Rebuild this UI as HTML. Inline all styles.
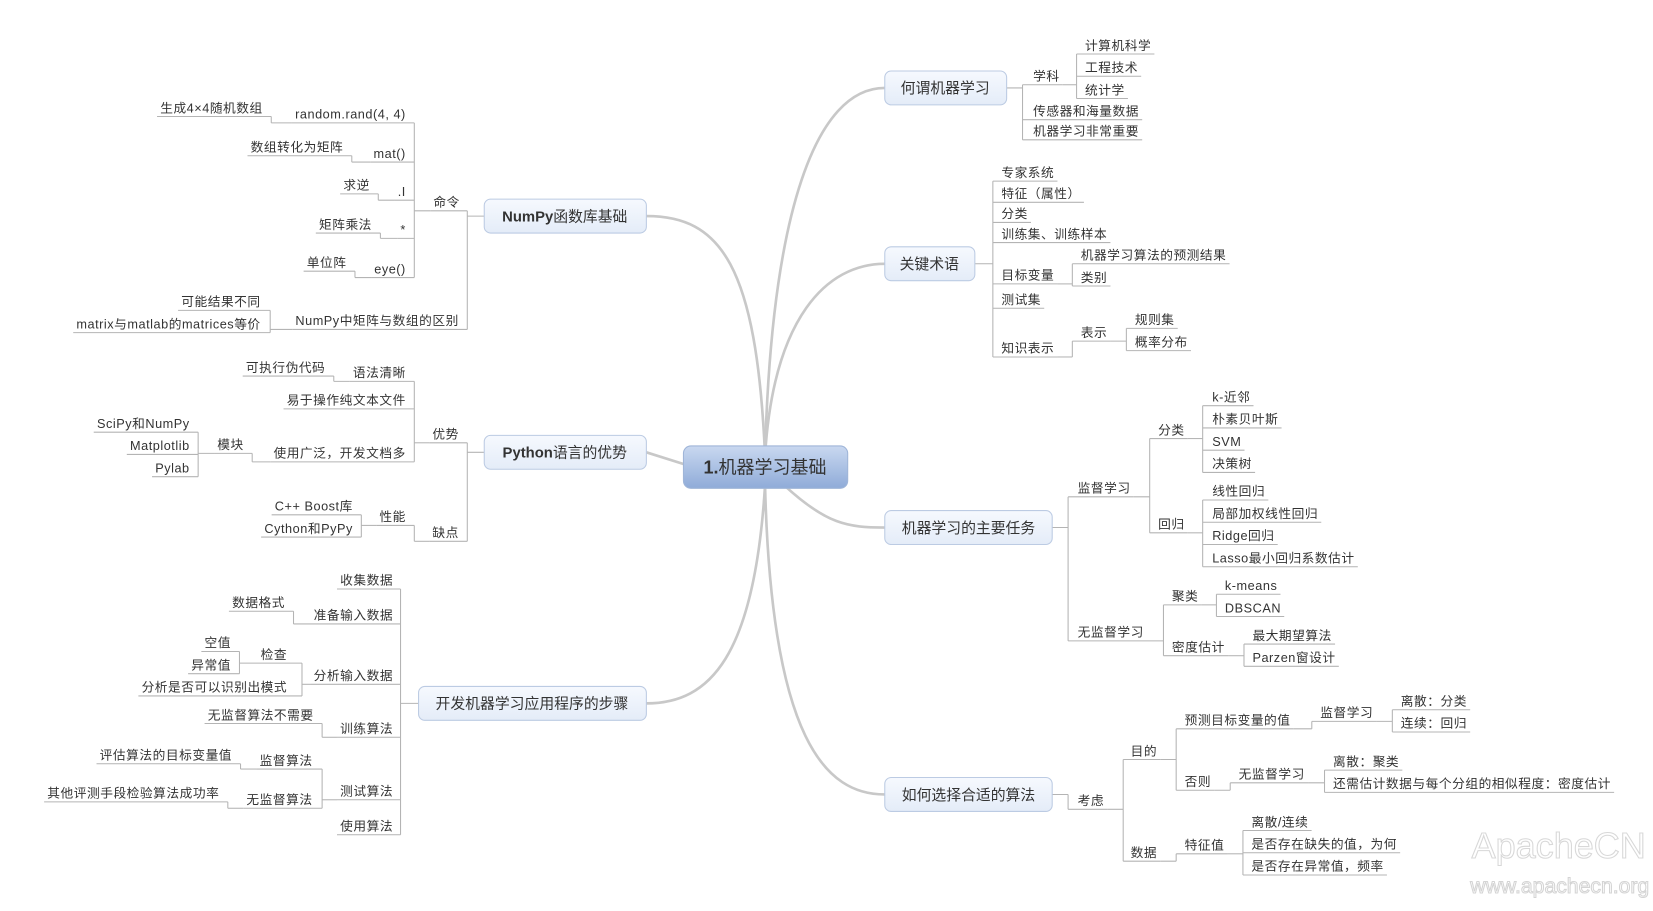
<!DOCTYPE html>
<html><head><meta charset="utf-8">
<style>
html,body{margin:0;padding:0;background:#fff;overflow:hidden;}
svg{display:block;}
text{font-family:"Liberation Sans","Noto Sans CJK SC",sans-serif;fill:#333;}
</style></head>
<body>
<svg id="s" width="1653" height="911" viewBox="0 0 1560 860" preserveAspectRatio="none" xmlns="http://www.w3.org/2000/svg">
<defs>
<linearGradient id="gc" x1="0" y1="0" x2="0" y2="1"><stop offset="0" stop-color="#c9d8f0"/><stop offset="1" stop-color="#8fabd8"/></linearGradient>
<linearGradient id="gb" x1="0" y1="0" x2="0" y2="1"><stop offset="0" stop-color="#f6f9fe"/><stop offset="1" stop-color="#e4ecf8"/></linearGradient>
</defs>
<g fill="none" stroke="#c8c8c8" stroke-width="2.5">
<path d="M722,430 C728,200 770,83 835,83"/>
<path d="M722,430 C730,300 780,249 835,249"/>
<path d="M740,458 C780,495 800,498 835,498"/>
<path d="M722,458 C728,700 780,750 835,750"/>
<path d="M722,430 C714,250 680,204 610,204"/>
<path d="M610,427 L645,438"/>
<path d="M722,458 C712,620 670,664 610,664"/>
</g>
<g id="lines" fill="none" stroke="#b4b4b4" stroke-width="1"></g>
<g id="txt" font-size="12" letter-spacing="0.5"></g>
<rect x="835" y="67" width="115" height="32" rx="6" fill="url(#gb)" stroke="#bccbe3"/>
<text x="892" y="88" font-size="14" text-anchor="middle">何谓机器学习</text>
<rect x="835" y="233" width="85" height="32" rx="6" fill="url(#gb)" stroke="#bccbe3"/>
<text x="877" y="254" font-size="14" text-anchor="middle">关键术语</text>
<rect x="835" y="482" width="158" height="32" rx="6" fill="url(#gb)" stroke="#bccbe3"/>
<text x="914" y="503" font-size="14" text-anchor="middle">机器学习的主要任务</text>
<rect x="835" y="734" width="158" height="32" rx="6" fill="url(#gb)" stroke="#bccbe3"/>
<text x="914" y="755" font-size="14" text-anchor="middle">如何选择合适的算法</text>
<rect x="457" y="188" width="153" height="32" rx="6" fill="url(#gb)" stroke="#bccbe3"/>
<text x="533" y="209" font-size="14" text-anchor="middle"><tspan font-weight="bold">NumPy</tspan>函数库基础</text>
<rect x="457" y="411" width="153" height="32" rx="6" fill="url(#gb)" stroke="#bccbe3"/>
<text x="533" y="432" font-size="14" text-anchor="middle"><tspan font-weight="bold">Python</tspan>语言的优势</text>
<rect x="395" y="648" width="215" height="32" rx="6" fill="url(#gb)" stroke="#bccbe3"/>
<text x="502" y="669" font-size="14" text-anchor="middle">开发机器学习应用程序的步骤</text>
<rect x="645" y="421" width="155" height="40" rx="7" fill="url(#gc)" stroke="#9fb5d8"/>
<text x="722" y="447" font-size="17" text-anchor="middle"><tspan font-weight="bold">1.</tspan>机器学习基础</text>
<text x="1471" y="810" font-size="34" text-anchor="middle" style="fill:#fff;stroke:#d8d8d8;stroke-width:1">ApacheCN</text>
<text x="1472" y="843" font-size="20" text-anchor="middle" style="fill:#fff;stroke:#d4d4d4;stroke-width:1">www.apachecn.org</text>
</svg>
<script>
var NS="http://www.w3.org/2000/svg";
var L=document.getElementById('lines'),G=document.getElementById('txt');
function T(t,x,y,k,bx){return {t:t,x:x,y:y,k:k||[],bx:bx};}
function ln(x1,y1,x2,y2){var e=document.createElementNS(NS,'line');e.setAttribute('x1',x1);e.setAttribute('y1',y1);e.setAttribute('x2',x2);e.setAttribute('y2',y2);L.appendChild(e);}
function draw(n,side,sx){
 var e=document.createElementNS(NS,'text');e.textContent=n.t;e.setAttribute('x',n.x);e.setAttribute('y',n.y+4);
 if(side<0)e.setAttribute('text-anchor','end');G.appendChild(e);
 var w=e.getBBox().width;var uy=n.y+8;
 var far;
 if(side>0){far=n.x+w+3;ln(sx,uy,far,uy);}else{far=n.x-w-3;ln(far,uy,sx,uy);}
 if(n.k.length)grp(far,uy,n.bx,n.k,side);
}
function grp(px,py,bx,kids,side){
 ln(px,py,bx,py);
 var ys=kids.map(function(c){return c.y+8;});ys.push(py);
 ln(bx,Math.min.apply(0,ys),bx,Math.max.apply(0,ys));
 kids.forEach(function(c){draw(c,side,bx);});
}
grp(950,83,965,[T('学科',975,72,[T('计算机科学',1024,43),T('工程技术',1024,64),T('统计学',1024,85)],1016),T('传感器和海量数据',975,105),T('机器学习非常重要',975,124)],1);
grp(920,249,937,[T('专家系统',945,163),T('特征（属性）',945,183),T('分类',945,202),T('训练集、训练样本',945,221),T('目标变量',945,260,[T('机器学习算法的预测结果',1020,241),T('类别',1020,262)],1012),T('测试集',945,283),T('知识表示',945,329,[T('表示',1020,314,[T('规则集',1071,302),T('概率分布',1071,323)],1063)],1012)],1);
grp(993,498,1008,[T('监督学习',1017,461,[T('分类',1093,406,[T('k-近邻',1144,375),T('朴素贝叶斯',1144,396),T('SVM',1144,417),T('决策树',1144,438)],1135),T('回归',1093,495,[T('线性回归',1144,464),T('局部加权线性回归',1144,485),T('Ridge回归',1144,506),T('Lasso最小回归系数估计',1144,527)],1135)],1085),T('无监督学习',1017,597,[T('聚类',1106,563,[T('k-means',1156,553),T('DBSCAN',1156,574)],1148),T('密度估计',1106,611,[T('最大期望算法',1182,600),T('Parzen窗设计',1182,621)],1174)],1098)],1);
grp(993,750,1008,[T('考虑',1017,756,[T('目的',1067,709,[T('预测目标变量的值',1118,680,[T('监督学习',1246,673,[T('离散：分类',1322,662),T('连续：回归',1322,683)],1314)],1238),T('否则',1118,738,[T('无监督学习',1169,731,[T('离散：聚类',1258,719),T('还需估计数据与每个分组的相似程度：密度估计',1258,740)],1250)],1161)],1110),T('数据',1067,805,[T('特征值',1118,798,[T('离散/连续',1181,776),T('是否存在缺失的值，为何',1181,797),T('是否存在异常值，频率',1181,818)],1173)],1110)],1060)],1);
grp(457,204,441,[T('命令',434,191,[T('random.rand(4, 4)',383,108,[T('生成4×4随机数组',248,102)],256),T('mat()',383,145,[T('数组转化为矩阵',324,139)],332),T('.I',383,181,[T('求逆',349,175)],357),T('*',383,217,[T('矩阵乘法',351,212)],359),T('eye()',383,254,[T('单位阵',327,248)],335)],391),T('NumPy中矩阵与数组的区别',433,303,[T('可能结果不同',246,285),T('matrix与matlab的matrices等价',246,306)],255)],-1);
grp(457,427,441,[T('优势',433,410,[T('语法清晰',383,352,[T('可执行伪代码',307,347)],315),T('易于操作纯文本文件',383,378),T('使用广泛，开发文档多',383,428,[T('模块',230,420,[T('SciPy和NumPy',179,400),T('Matplotlib',179,421),T('Pylab',179,442)],187)],238)],391),T('缺点',433,503,[T('性能',383,488,[T('C++ Boost库',333,478),T('Cython和PyPy',333,499)],341)],391)],-1);
grp(395,664,378,[T('收集数据',371,548),T('准备输入数据',371,581,[T('数据格式',269,569)],277),T('分析输入数据',371,638,[T('检查',271,618,[T('空值',218,607),T('异常值',218,628)],226),T('分析是否可以识别出模式',271,649)],285),T('训练算法',371,688,[T('无监督算法不需要',296,675)],304),T('测试算法',371,747,[T('监督算法',295,718,[T('评估算法的目标变量值',219,713)],227),T('无监督算法',295,755,[T('其他评测手段检验算法成功率',207,749)],215)],304),T('使用算法',371,780)],-1);
</script>
</body></html>
